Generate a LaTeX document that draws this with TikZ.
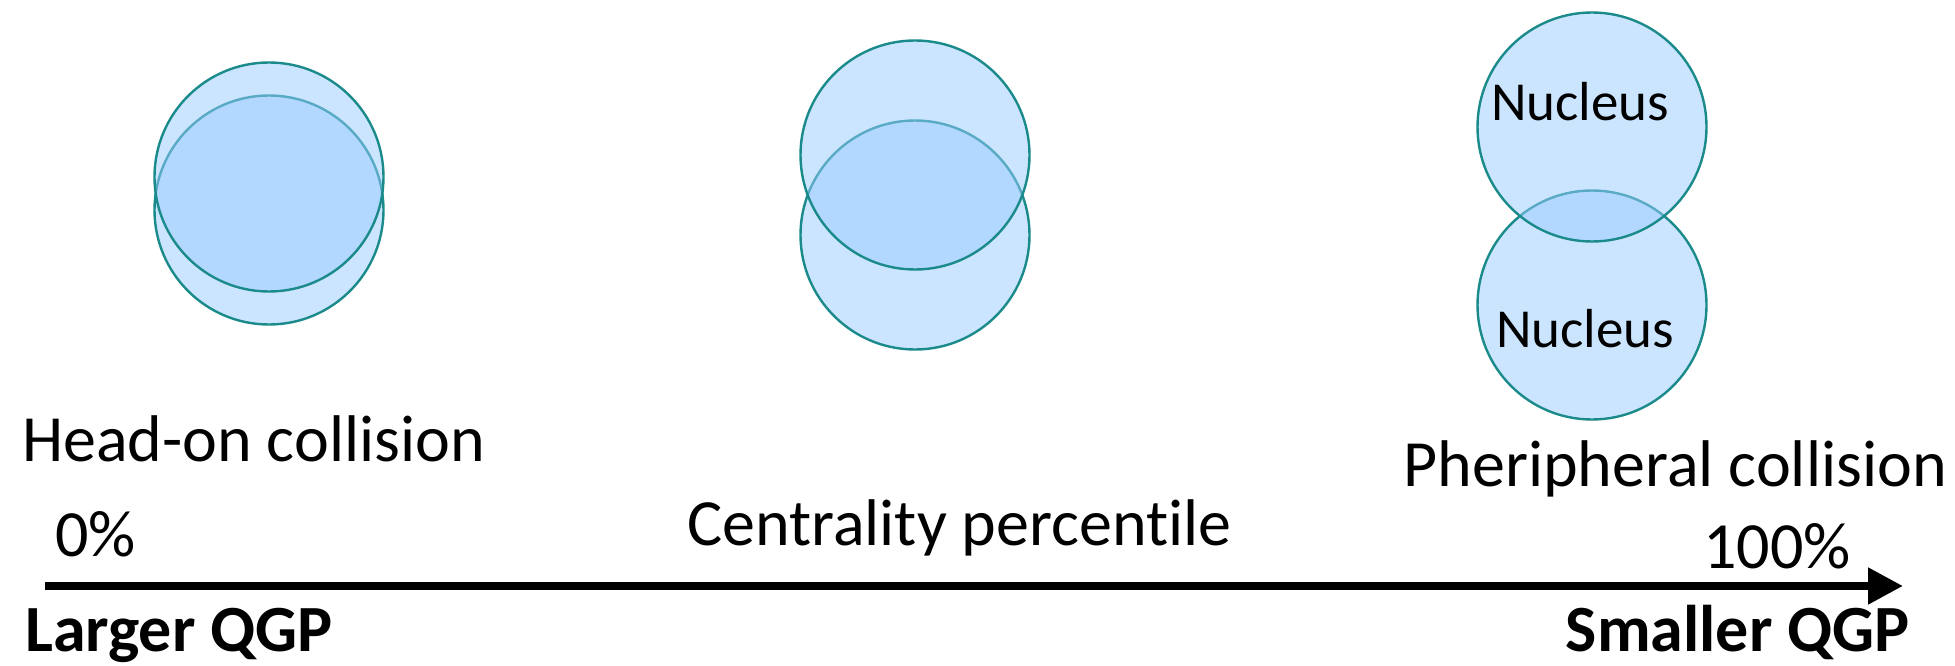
\documentclass[tikz,border=0pt]{standalone}
\usepackage{fontspec}
\setmainfont{Carlito}[Ligatures=NoCommon]
\usepackage{tikz}
\usetikzlibrary{ positioning, arrows.meta }
\usepackage{xcolor}
\definecolor{rim}{HTML}{1A8A8A}
\definecolor{nucfill}{HTML}{99CBFF}

\begin{document}
\begin{tikzpicture}[
  x=1pt, y=-1pt,
  nucleus/.style={circle, draw=rim, line width=2.4pt, fill=nucfill,
                  fill opacity=0.5, text opacity=1, minimum size=229pt, inner sep=0pt},
  lbl/.style={inner sep=0pt, font=\fontsize{66}{79}\selectfont},
  blbl/.style={lbl, font=\fontsize{66}{79}\selectfont\bfseries},
  nlbl/.style={inner sep=0pt, font=\fontsize{55}{66}\selectfont},
  ar/.style={-{Triangle[length=35pt, width=35pt]}, line width=8pt},
]
  \useasboundingbox (0,0) rectangle (1955,666);
  % head-on
  \node[nucleus] (c1b) at (269,210) {};
  \node[nucleus] (c1a) at (269,177) {};
  % mid-central
  \node[nucleus] (c2b) at (915,235) {};
  \node[nucleus] (c2a) at (915,155) {};
  % peripheral
  \node[nucleus] (c3b) at (1592,305) {};
  \node[nucleus] (c3a) at (1592,127) {};
  \node[nlbl, anchor=base west] (nuca) at (1491,121) {Nucleus};
  \node[nlbl, anchor=base west] (nucb) at (1496,347) {Nucleus};

  \node[lbl, anchor=base west] (headon) at (22,461) {Head-on collision};
  \node[lbl, anchor=base west] (centr) at (687,545) {Centrality percentile};
  \node[lbl, anchor=base east] (periph) at (1947,486) {Pheripheral collision};
  \node[lbl, anchor=base west] (zero) at (55,556) {0\%};
  \node[lbl, anchor=base east] (hundred) at (1851,568) {100\%};
  \node[blbl, anchor=base west] (larger) at (25,651) {Larger QGP};
  \node[blbl, anchor=base east] (smaller) at (1910,651) {Smaller QGP};

  \coordinate (ax0) at (45,586);
  \coordinate (ax1) at (1903,586);
  \draw[ar] (ax0) -- (ax1);
\end{tikzpicture}
\end{document}
